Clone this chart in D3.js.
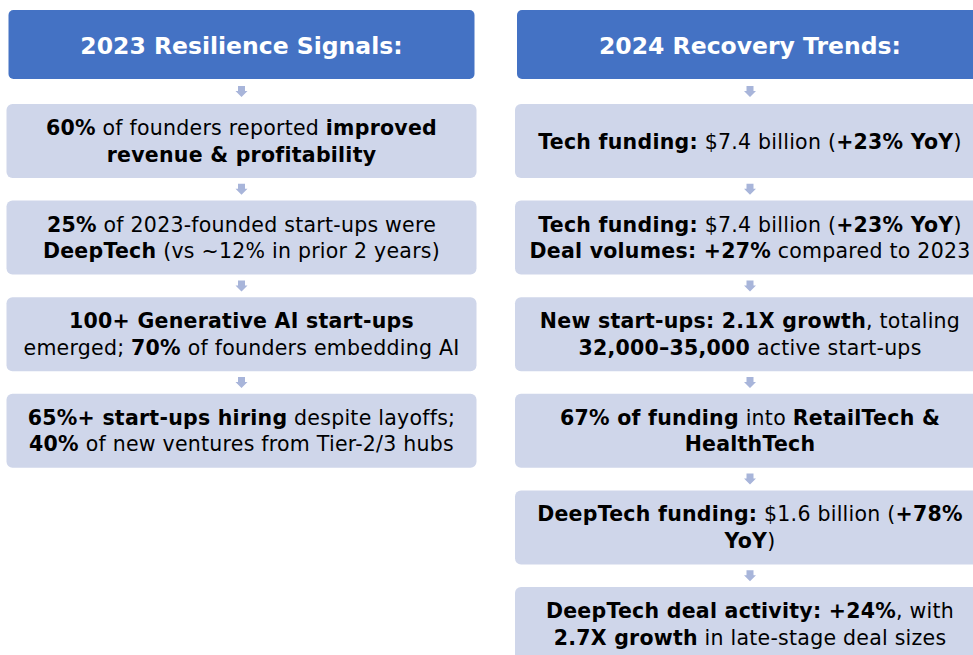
<!doctype html>
<html lang="en">
<head>
<meta charset="utf-8">
<title>2023 resilience / 2024 recovery</title>
<script src="https://cdn.jsdelivr.net/npm/d3@7"></script>
<style>
  body { margin: 0; background: #ffffff; }
  svg { display: block; font-family: "DejaVu Sans", "Liberation Sans", sans-serif; }
</style>
</head>
<body>
<svg width="973" height="655"></svg>
<script>
// column headers
var headers = ["2023 Resilience Signals:", "2024 Recovery Trends:"];

// box texts, one string per line, **bold** parts marked
var signals2023 = [
  ["**60%** of founders reported **improved**", "**revenue & profitability**"],
  ["**25%** of 2023-founded start-ups were", "**DeepTech** (vs ~12% in prior 2 years)"],
  ["**100+ Generative AI start-ups**", "emerged; **70%** of founders embedding AI"],
  ["**65%+ start-ups hiring** despite layoffs;", "**40%** of new ventures from Tier-2/3 hubs"]
];

var trends2024 = [
  ["**Tech funding:** $7.4 billion (**+23% YoY**)"],
  ["**Tech funding:** $7.4 billion (**+23% YoY**)", "**Deal volumes: +27%** compared to 2023"],
  ["**New start-ups: 2.1X growth**, totaling", "**32,000–35,000** active start-ups"],
  ["**67% of funding** into **RetailTech &**", "**HealthTech**"],
  ["**DeepTech funding:** $1.6 billion (**+78%**", "**YoY**)"],
  ["**DeepTech deal activity: +24%**, with", "**2.7X growth** in late-stage deal sizes"]
];

var columns = [signals2023, trends2024];

var svg = d3.select("svg");

var boxW = 470, headH = 69, boxH = 74, lineGap = 26.5;

// column centres
var x = d3.scalePoint()
    .domain(d3.range(columns.length))
    .range([241.5, 750]);

// box tops by step index
var y = d3.scaleLinear()
    .domain([0, 1])
    .range([104, 200.6]);

var headColor = "#4472c4",
    boxColor = "#cfd6ea",
    arrowColor = "#a8b5da";

function parse(line) {
  return line.split("**").map(function (t, i) { return { text: t, bold: i % 2 === 1 }; })
    .filter(function (s) { return s.text.length; });
}

// one <text> per box, one tspan per line
function writeLines(g, lines, cx, cy, size) {
  var first = lines.length === 1 ? 7.5 : -6;
  var t = g.append("text")
      .attr("y", cy + first)
      .attr("text-anchor", "middle")
      .attr("font-size", size)
      .attr("letter-spacing", 0.25)
      .attr("fill", "#000");
  t.selectAll("tspan.line")
    .data(lines)
    .enter()
    .append("tspan")
    .attr("class", "line")
    .attr("x", cx)
    .attr("dy", function (d, i) { return i === 0 ? 0 : lineGap; })
    .each(function (line) {
      d3.select(this).selectAll("tspan")
        .data(parse(line))
        .enter()
        .append("tspan")
        .attr("font-weight", function (d) { return d.bold ? 700 : 400; })
        .text(function (d) { return d.text; });
    });
}

// arrow: shaft then head, pointing down
function arrow(g, cx, top) {
  var p = d3.path();
  p.moveTo(cx - 3.5, top);
  p.lineTo(cx + 3.5, top);
  p.lineTo(cx + 3.5, top + 5);
  p.lineTo(cx + 6, top + 5);
  p.lineTo(cx, top + 11);
  p.lineTo(cx - 6, top + 5);
  p.lineTo(cx - 3.5, top + 5);
  p.closePath();
  g.append("path").attr("d", p.toString()).attr("fill", arrowColor);
}

columns.forEach(function (items, c) {
  var cx = x(c);
  var g = svg.append("g");

  // header
  g.append("rect")
    .attr("x", cx - boxW / 2 + 2)
    .attr("y", 10)
    .attr("width", boxW - 4)
    .attr("height", headH)
    .attr("rx", 5)
    .attr("fill", headColor);

  g.append("text")
    .attr("x", cx)
    .attr("y", 10 + headH / 2 + 9)
    .attr("text-anchor", "middle")
    .attr("font-size", 23.5)
    .attr("font-weight", 700)
    .attr("fill", "#fff")
    .text(headers[c]);

  items.forEach(function (lines, i) {
    var top = y(i);
    var prevBottom = i === 0 ? 10 + headH : y(i - 1) + boxH;
    arrow(g, cx, (prevBottom + top) / 2 - 5.5);

    g.append("rect")
      .attr("x", cx - boxW / 2)
      .attr("y", top)
      .attr("width", boxW)
      .attr("height", boxH)
      .attr("rx", 6)
      .attr("fill", boxColor);

    writeLines(g, lines, cx, top + boxH / 2, 20.5);
  });
});
</script>
</body>
</html>
